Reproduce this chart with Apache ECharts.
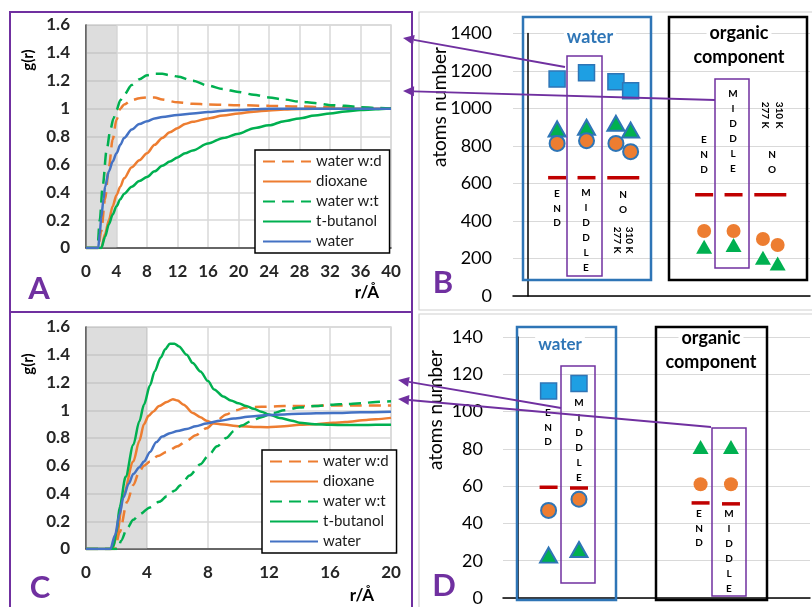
<!DOCTYPE html>
<html>
<head>
<meta charset="utf-8">
<script src="https://cdn.jsdelivr.net/npm/echarts@6/dist/echarts.min.js"></script>
<style>
html,body{margin:0;padding:0;background:#fff;}
#chart{width:812px;height:607px;}
</style>
</head>
<body>
<div id="chart"></div>
<script>
// ---------- DATA ----------
const seriesNames = ['water w:d', 'dioxane', 'water w:t', 't-butanol', 'water'];
const xTicksA = [0, 40, 4];      // min, max, step of panel A
const xTicksC = [0, 20, 4];      // min, max, step of panel C
const yTicksAC = [0, 1.6, 0.2];

// Panel A: g(r) curves, pairs [r, g]
const aWaterWD = [[0,0],[1.6,0],[2,0.12],[2.5,0.35],[3,0.58],[3.5,0.78],[4,0.92],[4.5,1.0],[5,1.03],[6,1.06],[7,1.075],[8,1.08],[9,1.08],[10,1.065],[12,1.045],[14,1.035],[16,1.03],[20,1.025],[24,1.02],[28,1.015],[32,1.01],[36,1.005],[40,1.0]];
const aDioxane = [[0,0],[2,0],[2.5,0.1],[3,0.2],[3.5,0.3],[4,0.38],[4.5,0.44],[5,0.5],[6,0.58],[7,0.63],[8,0.68],[9,0.74],[10,0.79],[11,0.83],[12,0.86],[13,0.89],[14,0.905],[16,0.93],[18,0.95],[20,0.965],[22,0.978],[24,0.987],[26,0.993],[28,0.997],[32,1.0],[36,1.0],[40,1.0]];
const aWaterWT = [[0,0],[1.5,0],[1.8,0.2],[2.2,0.45],[2.7,0.7],[3.2,0.85],[3.6,0.93],[4,0.99],[4.5,1.06],[5,1.1],[6,1.17],[7,1.21],[8,1.24],[9,1.25],[10,1.25],[11,1.24],[12,1.23],[14,1.2],[16,1.165],[18,1.14],[20,1.12],[22,1.1],[24,1.08],[26,1.065],[28,1.05],[30,1.04],[32,1.025],[34,1.02],[36,1.01],[38,1.005],[40,1.0]];
const aTButanol = [[0,0],[2,0],[2.5,0.08],[3,0.17],[3.5,0.24],[4,0.3],[4.5,0.35],[5,0.39],[6,0.44],[7,0.48],[8,0.51],[9,0.55],[10,0.59],[11,0.62],[12,0.65],[13,0.68],[14,0.7],[16,0.75],[18,0.79],[20,0.82],[22,0.86],[24,0.88],[26,0.91],[28,0.93],[30,0.95],[32,0.965],[34,0.98],[36,0.99],[38,0.995],[40,1.0]];
const aWater = [[0,0],[1.6,0],[1.8,0.1],[2,0.22],[2.3,0.35],[2.5,0.44],[3,0.55],[3.5,0.62],[4,0.68],[4.5,0.74],[5,0.79],[6,0.85],[7,0.89],[8,0.91],[9,0.93],[10,0.94],[12,0.955],[14,0.965],[16,0.975],[18,0.985],[20,0.99],[22,0.995],[24,1.0],[28,1.0],[32,1.0],[36,1.0],[40,1.0]];

// Panel C: g(r) curves
const cWaterWD = [[0,0],[1.9,0],[2.2,0.12],[2.7,0.34],[3.1,0.46],[3.5,0.56],[3.8,0.6],[4.2,0.63],[4.7,0.67],[5.3,0.7],[6,0.74],[6.6,0.78],[7.2,0.82],[7.9,0.87],[8.5,0.92],[9.2,0.97],[9.8,1.0],[10.5,1.02],[11.5,1.025],[13,1.03],[14.5,1.03],[16.2,1.035],[18,1.035],[20,1.035]];
const cDioxane = [[0,0],[1.7,0],[2,0.08],[2.45,0.39],[3.1,0.63],[3.5,0.78],[3.8,0.9],[4.1,0.96],[4.4,0.99],[4.8,1.03],[5.3,1.06],[5.7,1.08],[6,1.07],[6.4,1.04],[7,0.98],[7.5,0.95],[7.9,0.925],[8.4,0.905],[8.8,0.9],[10.1,0.885],[11,0.88],[11.9,0.878],[13,0.885],[14,0.895],[15,0.9],[16.2,0.91],[17,0.915],[18.4,0.93],[19,0.935],[20,0.945]];
const cWaterWT = [[0,0],[2.1,0],[2.3,0.06],[2.7,0.15],[3.1,0.21],[3.5,0.25],[4.2,0.3],[4.8,0.34],[5.3,0.38],[5.8,0.42],[6.2,0.46],[6.8,0.53],[7.5,0.61],[8,0.67],[8.6,0.74],[9.2,0.8],[9.7,0.85],[10.2,0.89],[10.8,0.92],[11.5,0.95],[12.3,0.98],[13,1.0],[14,1.02],[15,1.03],[16.2,1.04],[17,1.045],[18,1.05],[19,1.06],[20,1.065]];
const cTButanol = [[0,0],[1.6,0],[1.8,0.02],[2,0.12],[2.2,0.3],[2.6,0.52],[3.1,0.75],[3.5,0.92],[3.8,1.04],[4.2,1.18],[4.5,1.28],[4.9,1.38],[5.2,1.44],[5.5,1.48],[5.8,1.48],[6.1,1.46],[6.6,1.4],[7,1.34],[7.5,1.28],[8,1.21],[8.4,1.15],[9,1.1],[9.5,1.07],[10,1.05],[10.5,1.03],[11,1.01],[11.5,0.99],[12,0.97],[12.7,0.945],[13.5,0.925],[14,0.91],[15,0.9],[16,0.895],[17,0.893],[18,0.893],[19,0.895],[20,0.895]];
const cWater = [[0,0],[1.6,0],[1.9,0.1],[2.2,0.25],[2.45,0.37],[2.8,0.47],[3.1,0.54],[3.5,0.59],[3.8,0.63],[4.2,0.7],[4.6,0.77],[5,0.81],[5.5,0.835],[6,0.85],[6.6,0.865],[7.2,0.885],[7.9,0.905],[8.8,0.925],[9.7,0.94],[10.8,0.955],[11.9,0.965],[13,0.97],[14,0.975],[16.2,0.98],[18,0.985],[20,0.99]];

// Panel B: atoms number; slots: water END, MIDDLE, NO(310K), NO(277K) | organic END, MIDDLE, NO(310K), NO(277K)
const bSlotsWater = [1, 2, 3, 3.5];
const bSlotsOrg = [6, 7, 8, 8.5];
const bRefSlotsWater = [1, 2, 3.25];
const bRefSlotsOrg = [6, 7, 8.25];
const bYTicks = [0, 1400, 200];
const bSquareWater = [1157, 1191, 1143, 1095];
const bTriWater = [891, 900, 921, 885];
const bCircWater = [814, 828, 814, 770];
const bRefWater = [631, 631, 631];
const bCircOrg = [347, 347, 304, 272];
const bTriOrg = [263, 272, 204, 174];
const bRefOrg = [540, 540, 540];

// Panel D
const dSlotsWater = [1, 2];
const dSlotsOrg = [6, 7];
const dYTicks = [0, 140, 20];
const dSquareWater = [111, 115];
const dCircWater = [47, 53];
const dTriWater = [23, 26];
const dRefWater = [59.4, 59];
const dTriOrg = [81, 81];
const dCircOrg = [61, 61];
const dRefOrg = [51, 50.5];

// ---------- STYLE ----------
const ORANGE = '#ED7D31', GREEN = '#00B050', BLUE = '#4472C4', PURPLE = '#7030A0';
const SQ = '#1E9FE3', WBLUE = '#2E75B6', RED = '#C00000';
const FONT = 'Lato, "Liberation Sans", sans-serif';
const DASH = [12, 7];

const chart = echarts.init(document.getElementById('chart'), null, {renderer: 'canvas'});

function zip(xs, ys) { return ys.map((y, i) => [xs[i], y]); }

function curveSeries(name, data, color, dashed, gi) {
  return {
    type: 'line', name: name, xAxisIndex: gi, yAxisIndex: gi, data: data,
    symbol: 'none', smooth: 0.3, smoothMonotone: 'x', z: 3,
    lineStyle: {color: color, width: 2.5, type: dashed ? DASH : 'solid'},
    itemStyle: {color: color}
  };
}

function acAxes(gi, xt) {
  return {
    x: {
      type: 'value', gridIndex: gi, min: xt[0], max: xt[1], interval: xt[2],
      axisLine: {show: true, onZero: false, lineStyle: {color: '#404040', width: 1.5}},
      axisTick: {show: false},
      axisLabel: {fontFamily: FONT, fontWeight: 'bold', fontSize: 17, color: '#262626', margin: 15},
      splitLine: {show: true, lineStyle: {color: '#d9d9d9', width: 1.5}}
    },
    y: {
      type: 'value', gridIndex: gi, min: yTicksAC[0], max: yTicksAC[1], interval: yTicksAC[2],
      axisLine: {show: true, onZero: false, lineStyle: {color: '#404040', width: 1.5}},
      axisTick: {show: false},
      axisLabel: {fontFamily: FONT, fontWeight: 'bold', fontSize: 17, color: '#262626', margin: 16,
        formatter: v => String(Math.round(v * 10) / 10)},
      splitLine: {show: true, lineStyle: {color: '#d9d9d9', width: 1.5}}
    }
  };
}

function bdAxes(gi, yt, margin) {
  return {
    x: {
      type: 'value', gridIndex: gi, min: -0.5, max: 9.6,
      axisLine: {show: true, onZero: false, lineStyle: {color: '#000', width: 1.5}},
      axisTick: {show: false}, axisLabel: {show: false}, splitLine: {show: false}
    },
    y: {
      type: 'value', gridIndex: gi, min: yt[0], max: yt[1], interval: yt[2],
      axisLine: {show: true, lineStyle: {color: '#000', width: 1.5}},
      axisTick: {show: false},
      axisLabel: {fontFamily: FONT, fontSize: 18, color: '#000', margin: margin, formatter: v => String(v)},
      splitLine: {show: true, lineStyle: {color: '#d9d9d9', width: 1.2}}
    }
  };
}

const axA = acAxes(0, xTicksA), axC = acAxes(1, xTicksC);
const axB = bdAxes(2, bYTicks, 21), axD = bdAxes(3, dYTicks, 20);

function scatter(gi, data, symbol, size, fill, border, bw, z) {
  return {
    type: 'scatter', xAxisIndex: gi, yAxisIndex: gi, data: data, symbol: symbol, symbolSize: size,
    itemStyle: {color: fill, borderColor: border || fill, borderWidth: border ? bw : 0, opacity: 1},
    z: z || 4, silent: true
  };
}
function refLine(gi, data, thick) {
  return {
    type: 'scatter', xAxisIndex: gi, yAxisIndex: gi, data: data, symbol: 'rect',
    symbolSize: (v) => (v[0] % 1 ? [32, thick] : [18, thick]),
    itemStyle: {color: RED, opacity: 1}, z: 4, silent: true
  };
}

const shade = {
  silent: true,
  itemStyle: {color: 'rgba(175,175,175,0.42)'},
  data: [[{xAxis: 0}, {xAxis: 4}]]
};

const series = [
  Object.assign(curveSeries(seriesNames[0], aWaterWD, ORANGE, true, 0), {markArea: shade}),
  curveSeries(seriesNames[1], aDioxane, ORANGE, false, 0),
  curveSeries(seriesNames[2], aWaterWT, GREEN, true, 0),
  curveSeries(seriesNames[3], aTButanol, GREEN, false, 0),
  curveSeries(seriesNames[4], aWater, BLUE, false, 0),
  Object.assign(curveSeries(seriesNames[0], cWaterWD, ORANGE, true, 1), {markArea: shade}),
  curveSeries(seriesNames[1], cDioxane, ORANGE, false, 1),
  curveSeries(seriesNames[2], cWaterWT, GREEN, true, 1),
  curveSeries(seriesNames[3], cTButanol, GREEN, false, 1),
  curveSeries(seriesNames[4], cWater, BLUE, false, 1),
  // B
  scatter(2, zip(bSlotsWater, bSquareWater), 'rect', 16, SQ, WBLUE, 1.5),
  scatter(2, zip(bSlotsWater, bTriWater), 'triangle', [17, 15], GREEN, WBLUE, 2),
  scatter(2, zip(bSlotsWater, bCircWater), 'circle', 15, ORANGE, WBLUE, 2, 5),
  refLine(2, zip(bRefSlotsWater, bRefWater), 3.5),
  scatter(2, zip(bSlotsOrg, bTriOrg), 'triangle', [16, 14], GREEN),
  scatter(2, zip(bSlotsOrg, bCircOrg), 'circle', 14, ORANGE, null, 0, 5),
  refLine(2, zip(bRefSlotsOrg, bRefOrg), 3.5),
  // D
  scatter(3, zip(dSlotsWater, dSquareWater), 'rect', 16, SQ, WBLUE, 1.5),
  scatter(3, zip(dSlotsWater, dTriWater), 'triangle', [17, 15], GREEN, WBLUE, 2),
  scatter(3, zip(dSlotsWater, dCircWater), 'circle', 15, ORANGE, WBLUE, 2, 5),
  refLine(3, zip(dSlotsWater, dRefWater), 3.5),
  scatter(3, zip(dSlotsOrg, dTriOrg), 'triangle', [16, 14], GREEN),
  scatter(3, zip(dSlotsOrg, dCircOrg), 'circle', 14, ORANGE),
  refLine(3, zip(dSlotsOrg, dRefOrg), 3.5)
];

function legendAt(left, top) {
  return {
    data: seriesNames, orient: 'vertical', left: left, top: top,
    padding: [4, 8, 4, 7], itemGap: 5, itemWidth: 48, itemHeight: 14,
    backgroundColor: '#fff', borderColor: '#000', borderWidth: 1.5, borderRadius: 0,
    itemStyle: {opacity: 0, borderWidth: 0},
    textStyle: {fontFamily: FONT, fontSize: 15, color: '#1a1a1a'},
    selectedMode: false
  };
}

// ---------- GRAPHIC DECORATIONS ----------
const G = [];
function box(x1, y1, x2, y2, color, w, z) {
  G.push({type: 'rect', silent: true, z: z || 1,
    shape: {x: x1, y: y1, width: x2 - x1, height: y2 - y1},
    style: {fill: 'none', stroke: color, lineWidth: w}});
}
function text(x, y, t, o) {
  o = o || {};
  G.push({type: 'text', silent: true, z: o.z || 6, x: x, y: y, rotation: o.rot || 0,
    style: {text: t, fill: o.color || '#000', font: (o.weight || 'bold') + ' ' + (o.size || 10) + 'px ' + FONT,
      textAlign: o.align || 'center', textVerticalAlign: o.valign || 'middle',
      lineHeight: o.lh, backgroundColor: o.bg, padding: o.pad}});
}
function stack(x, yFirst, letters, lh) {
  text(x, yFirst - lh / 2, letters.split('').join('\n'), {size: 10, lh: lh, valign: 'top'});
}
function arrow(x1, y1, x2, y2) {
  const dx = x2 - x1, dy = y2 - y1, L = Math.hypot(dx, dy), ux = dx / L, uy = dy / L;
  const hl = 11, hw = 5;
  const bx = x2 - ux * hl, by = y2 - uy * hl;
  G.push({type: 'line', silent: true, z: 10, shape: {x1: x1, y1: y1, x2: bx, y2: by},
    style: {stroke: PURPLE, lineWidth: 1.8}});
  G.push({type: 'polygon', silent: true, z: 10,
    shape: {points: [[x2, y2], [bx - uy * hw, by + ux * hw], [bx + uy * hw, by - ux * hw]]},
    style: {fill: PURPLE}});
}

// panel frames
box(10, 12, 412, 312, PURPLE, 2, 8);
box(10, 312, 412, 620, PURPLE, 2, 8);
box(419, 12, 814, 310, '#cfcfcf', 1.2, 0);
box(419, 314, 814, 620, '#cfcfcf', 1.2, 0);

// panel letters
text(39, 289, 'A', {size: 31, color: PURPLE});
text(443, 283, 'B', {size: 31, color: PURPLE});
text(40, 588, 'C', {size: 31, color: PURPLE});
text(444, 586, 'D', {size: 31, color: PURPLE});

// axis titles
text(28, 60, 'g(r)', {size: 15, rot: Math.PI / 2});
text(28, 364, 'g(r)', {size: 15, rot: Math.PI / 2});
text(367, 293, 'r/Å', {size: 17});
text(362, 596, 'r/Å', {size: 17});
text(440, 107, 'atoms number', {size: 19, weight: 'normal', rot: Math.PI / 2});
text(436, 410, 'atoms number', {size: 19, weight: 'normal', rot: Math.PI / 2});

// B boxes
box(523, 17, 651, 280, WBLUE, 2.5);
box(669, 17, 807, 280, '#000', 2.5);
box(567, 56, 602, 276, PURPLE, 1.5);
box(715, 79, 749, 268, PURPLE, 1.5);
text(590, 37, 'water', {size: 18, color: WBLUE, bg: '#fff', pad: [0, 3]});
text(739, 33, 'organic', {size: 18, bg: '#fff', pad: [0, 3]});
text(739, 57, 'component', {size: 18, bg: '#fff', pad: [0, 2]});
stack(557, 194, 'END', 14.5);
stack(586, 193, 'MIDDLE', 15);
stack(623, 195, 'NO', 15);
text(623, 240, '310 K\n277 K', {size: 10, rot: -Math.PI / 2, lh: 12});
stack(704, 140, 'END', 15);
stack(733, 94, 'MIDDLE', 15);
stack(772, 155, 'NO', 15);
text(772, 115, '310 K\n277 K', {size: 10, rot: -Math.PI / 2, lh: 14});

// D boxes
box(517, 327, 616, 600, WBLUE, 2.5);
box(656, 327, 767, 600, '#000', 2.5);
box(561, 366, 595, 583, PURPLE, 1.5);
box(712, 428, 746, 596, PURPLE, 1.5);
text(560, 345, 'water', {size: 17, color: WBLUE, bg: '#fff', pad: [0, 3]});
text(711, 338, 'organic', {size: 18, bg: '#fff', pad: [0, 3]});
text(711, 362, 'component', {size: 18, bg: '#fff', pad: [0, 2]});
stack(548, 413, 'END', 14.5);
stack(579, 403, 'MIDDLE', 15);
stack(699, 514, 'END', 14.5);
stack(729, 514, 'MIDDLE', 15);

// arrows
arrow(565, 67, 403, 38);
arrow(715, 100, 403, 91);
arrow(561, 408, 398, 380);
arrow(711, 427, 398, 399);

const option = {
  animation: false,
  backgroundColor: '#fff',
  grid: [
    {left: 86, top: 25, width: 305, height: 223, show: true, borderColor: '#d9d9d9', borderWidth: 1.5, backgroundColor: '#fff'},
    {left: 86, top: 327, width: 305, height: 222, show: true, borderColor: '#d9d9d9', borderWidth: 1.5, backgroundColor: '#fff'},
    {left: 513, top: 33.5, width: 297, height: 262.5},
    {left: 503, top: 337, width: 307, height: 263}
  ],
  xAxis: [axA.x, axC.x, axB.x, axD.x],
  yAxis: [axA.y, axC.y, axB.y, axD.y],
  legend: [legendAt(255, 150), legendAt(262, 450)],
  series: series,
  graphic: G
};
chart.setOption(option);
</script>
</body>
</html>
